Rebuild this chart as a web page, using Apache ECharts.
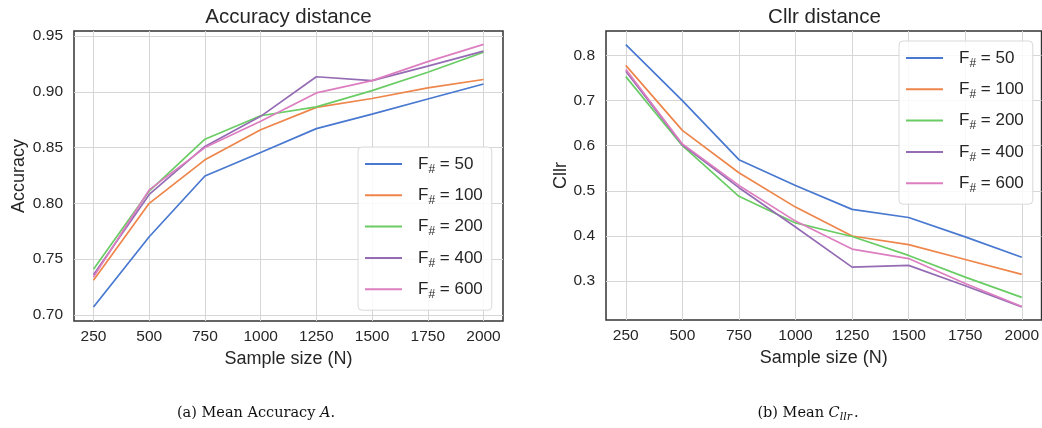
<!DOCTYPE html>
<html><head><meta charset="utf-8">
<script src="https://cdn.jsdelivr.net/npm/echarts@6/dist/echarts.min.js"></script>
<style>html,body{margin:0;padding:0;background:#fff}#c{width:1042px;height:428px}</style>
</head><body><div id="c"></div>
<script>
// ---- data ----
const sampleSizes = [250, 500, 750, 1000, 1250, 1500, 1750, 2000];
const featureCounts = ['50', '100', '200', '400', '600'];
const accuracyTicks = [0.70, 0.75, 0.80, 0.85, 0.90, 0.95];
const cllrTicks = [0.3, 0.4, 0.5, 0.6, 0.7, 0.8];

const acc50  = [0.707, 0.770, 0.8245, 0.8455, 0.867, 0.880, 0.8935, 0.907];
const acc100 = [0.731, 0.800, 0.839, 0.866, 0.886, 0.894, 0.9035, 0.911];
const acc200 = [0.741, 0.811, 0.8575, 0.8785, 0.8865, 0.901, 0.9175, 0.9355];
const acc400 = [0.736, 0.808, 0.851, 0.878, 0.9135, 0.910, 0.923, 0.9365];
const acc600 = [0.734, 0.812, 0.850, 0.8735, 0.899, 0.910, 0.927, 0.9425];

const cllr50  = [0.824, 0.700, 0.569, 0.512, 0.459, 0.441, 0.398, 0.353];
const cllr100 = [0.778, 0.634, 0.540, 0.464, 0.400, 0.381, 0.348, 0.315];
const cllr200 = [0.753, 0.600, 0.488, 0.429, 0.399, 0.357, 0.309, 0.264];
const cllr400 = [0.765, 0.602, 0.507, 0.420, 0.331, 0.335, 0.290, 0.243];
const cllr600 = [0.769, 0.604, 0.512, 0.433, 0.371, 0.350, 0.295, 0.244];

const accuracySeries = [acc50, acc100, acc200, acc400, acc600];
const cllrSeries = [cllr50, cllr100, cllr200, cllr400, cllr600];

// ---- style ----
const colors = ['#4878d0', '#ee854a', '#6acc64', '#956cb4', '#dc7ec0'];
const SANS = 'Liberation Sans, Arial, sans-serif';
const SERIF = 'DejaVu Serif, serif';
const TXT = '#262626';
const names = featureCounts.map(f => 'F# = ' + f);

function xAxisCfg(gi) {
  return {
    gridIndex: gi, type: 'value', min: 162.5, max: 2087.5,
    axisLine: {show: false},
    axisTick: {show: false, customValues: sampleSizes},
    axisLabel: {customValues: sampleSizes, margin: 8, fontSize: 15.5, color: TXT, fontFamily: SANS,
      formatter: v => String(v)},
    splitLine: {show: true, lineStyle: {color: '#d6d6d6', width: 1}},
    name: 'Sample size (N)', nameLocation: 'middle', nameGap: 25,
    nameTextStyle: {fontSize: 18, color: TXT, fontFamily: SANS}
  };
}
function yAxisCfg(gi, min, max, ticks, dec, name, gap) {
  return {
    gridIndex: gi, type: 'value', min: min, max: max,
    axisLine: {show: false},
    axisTick: {show: false, customValues: ticks},
    axisLabel: {customValues: ticks, margin: 11, fontSize: 15.5, color: TXT, fontFamily: SANS,
      formatter: v => Number(v).toFixed(dec)},
    splitLine: {show: true, lineStyle: {color: '#d6d6d6', width: 1}},
    name: name, nameLocation: 'middle', nameGap: gap, nameRotate: 90,
    nameTextStyle: {fontSize: 18, color: TXT, fontFamily: SANS}
  };
}
function legendCfg(left, top) {
  return {
    data: names, orient: 'vertical', left: left, top: top,
    icon: 'rect',
    itemWidth: 37, itemHeight: 2, itemGap: 7.3,
    lineStyle: {width: 2},
    padding: [5, 9, 9, 7],
    backgroundColor: 'rgba(255,255,255,0.85)', borderColor: '#d9d9d9', borderWidth: 1, borderRadius: 4,
    selectedMode: false,
    formatter: n => '{sp|}F{sub|#} = ' + n.split('= ')[1],
    textStyle: {
      fontSize: 17, color: TXT, fontFamily: SANS, lineHeight: 24,
      rich: {
        sp: {width: 11, fontSize: 17, fontFamily: SANS, lineHeight: 24},
        sub: {fontSize: 12, fontFamily: SANS, color: TXT, lineHeight: 12, padding: [11, 0, 0, 0]}
      }
    }
  };
}

const series = [];
accuracySeries.forEach((ys, k) => series.push({
  type: 'line', name: names[k], xAxisIndex: 0, yAxisIndex: 0, symbol: 'none',
  data: sampleSizes.map((x, i) => [x, ys[i]]),
  lineStyle: {width: 1.7, color: colors[k]}, itemStyle: {color: colors[k]},
  emphasis: {disabled: true}, z: 3
}));
cllrSeries.forEach((ys, k) => series.push({
  type: 'line', name: names[k], xAxisIndex: 1, yAxisIndex: 1, symbol: 'none',
  data: sampleSizes.map((x, i) => [x, ys[i]]),
  lineStyle: {width: 1.7, color: colors[k]}, itemStyle: {color: colors[k]},
  emphasis: {disabled: true}, z: 3
}));

const option = {
  animation: false,
  backgroundColor: '#ffffff',
  color: colors,
  grid: [
    {left: 74, top: 31, width: 429, height: 290, show: true, borderColor: '#333333', borderWidth: 1.5, backgroundColor: 'transparent'},
    {left: 606, top: 31, width: 437, height: 289, show: true, borderColor: '#333333', borderWidth: 1.5, backgroundColor: 'transparent'}
  ],
  xAxis: [xAxisCfg(0), xAxisCfg(1)],
  yAxis: [
    yAxisCfg(0, 0.6945, 0.9545, accuracyTicks, 2, 'Accuracy', 46),
    yAxisCfg(1, 0.214, 0.854, cllrTicks, 1, 'Cllr', 35)
  ],
  legend: [legendCfg(358, 147), legendCfg(899, 41)],
  graphic: [
    {type: 'text', x: 288.5, y: 17.5, style: {text: 'Accuracy distance', fontSize: 20.5, fontFamily: SANS, fill: TXT, align: 'center', verticalAlign: 'middle'}},
    {type: 'text', x: 824.5, y: 17.5, style: {text: 'Cllr distance', fontSize: 20.5, fontFamily: SANS, fill: TXT, align: 'center', verticalAlign: 'middle'}},
    {type: 'text', x: 256, y: 413, style: {text: '(a) Mean Accuracy {i|A}.', fontSize: 14.5, fontFamily: SERIF, fill: '#111',
      align: 'center', verticalAlign: 'middle',
      rich: {i: {fontStyle: 'italic', fontSize: 14.5, fontFamily: SERIF, fill: '#111'}}}},
    {type: 'text', x: 808, y: 413, style: {text: '(b) Mean {c|C}{s|llr}.', fontSize: 14.5, fontFamily: SERIF, fill: '#111',
      align: 'center', verticalAlign: 'middle',
      rich: {c: {fontStyle: 'italic', fontSize: 14.5, fontFamily: SERIF, fill: '#111'},
             s: {fontStyle: 'italic', fontSize: 11, fontFamily: SERIF, fill: '#111', lineHeight: 11, padding: [8, 2, 0, 0]}}}}
  ],
  series: series
};
const chart = echarts.init(document.getElementById('c'), null, {renderer: 'canvas'});
chart.setOption(option);
</script></body></html>
